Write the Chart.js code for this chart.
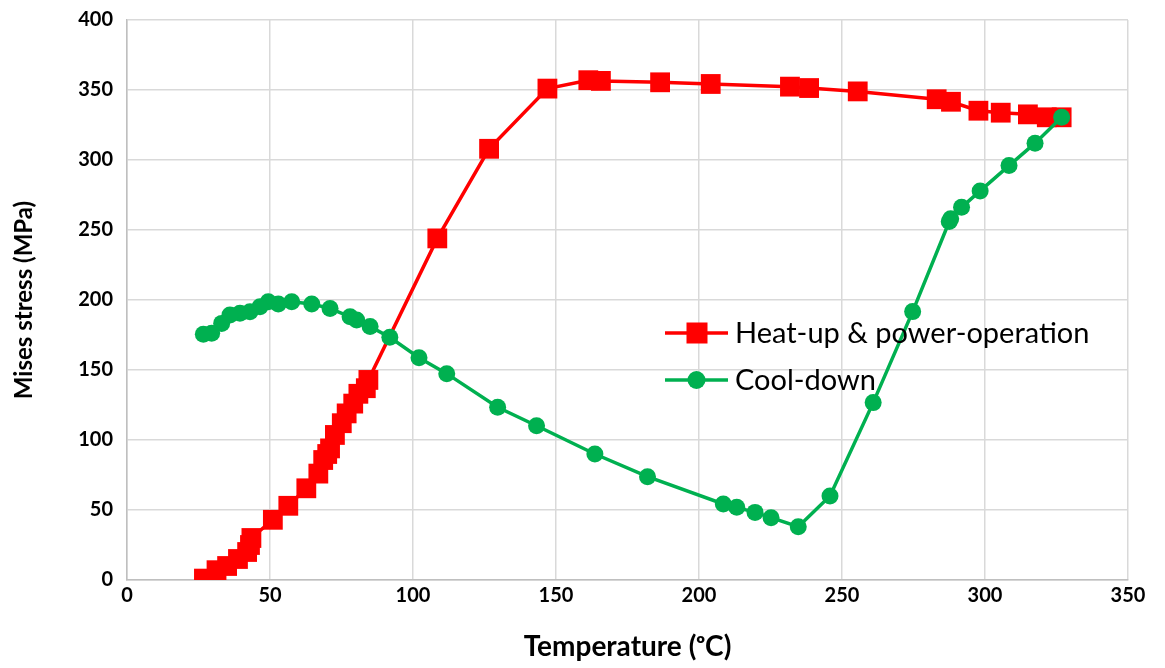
<!DOCTYPE html>
<html>
<head>
<meta charset="utf-8">
<script src="https://cdn.jsdelivr.net/npm/chart.js@4/dist/chart.umd.min.js"></script>
<style>
html,body{margin:0;padding:0;background:#fff;}
#wrap{width:1165px;height:668px;}
</style>
</head>
<body>
<div id="wrap"><canvas id="c" width="1165" height="668"></canvas></div>
<script>
// Heat-up & power-operation
const heatTemp = [26.9,31.3,35,38.8,42,43,43.5,51,56.4,62.7,66.9,68.6,70,71,72.7,75.1,76.8,79.1,80.9,83.5,84.4,108.5,126.6,147,161.3,165.7,186.4,204.1,231.8,238.5,255.5,283.1,288.1,297.7,305.5,315,321.6,326.8];
const heatStress = [1,7,10,15,20,25,30,43,53,65.5,76,85.7,90,94,103.6,112,119,126,133,137,142.9,244,308,351,357,356.5,355.5,354.3,352.4,351.4,349,343.4,341.6,335.2,333.8,332.6,330.5,330.5];
// Cool-down
const coolTemp = [326.8,317.5,308.4,298.3,291.8,288,287.5,274.7,260.9,245.8,234.7,225.2,219.6,213.2,208.5,182,163.6,143.2,129.6,111.8,102.1,91.9,85,80.3,78,71,64.6,57.6,52.9,49.4,46.5,43,39.5,36,33.1,29.6,26.7];
const coolStress = [330.5,312,296,277.9,266.2,258,256,191.7,126.7,60,38.1,44.5,48.3,51.9,54.3,73.8,90,110.2,123.4,147.4,158.8,173.4,181,185.7,188,194,197.1,198.8,197.1,198.8,195.2,191.6,190.5,189.3,183.3,176.2,175.5];

const seriesNames = ['Heat-up & power-operation','Cool-down'];
const xTitle = 'Temperature (\u1D52C)';
const yTitle = 'Mises stress (MPa)';

const RED = '#ff0000', GREEN = '#00b050';
const toXY = (xs, ys) => xs.map((x, i) => ({x: x, y: ys[i]}));

const legendPlugin = {
  id: 'insideLegend',
  afterDraw(chart) {
    const ctx = chart.ctx;
    const a = chart.chartArea;
    const x0 = a.left + 538, y0 = a.top + 313, gap = 47;
    const items = [
      {name: seriesNames[0], color: RED, shape: 'rect'},
      {name: seriesNames[1], color: GREEN, shape: 'circle'}
    ];
    ctx.save();
    items.forEach((it, i) => {
      const y = y0 + i * gap;
      ctx.strokeStyle = it.color; ctx.lineWidth = 3.5;
      ctx.beginPath(); ctx.moveTo(x0, y); ctx.lineTo(x0 + 63, y); ctx.stroke();
      ctx.fillStyle = it.color;
      if (it.shape === 'rect') { ctx.fillRect(x0 + 21.5, y - 10.5, 21, 21); }
      else { ctx.beginPath(); ctx.arc(x0 + 31.5, y, 9, 0, Math.PI * 2); ctx.fill(); }
      ctx.fillStyle = '#000';
      ctx.font = '29px Lato, "Liberation Sans", sans-serif';
      ctx.textBaseline = 'middle';
      ctx.textAlign = 'left';
      ctx.fillText(it.name, x0 + 70, y + 1);
    });
    ctx.restore();
  }
};

new Chart(document.getElementById('c'), {
  type: 'scatter',
  data: {
    datasets: [
      {
        label: seriesNames[0],
        data: toXY(heatTemp, heatStress),
        showLine: true,
        borderColor: RED, backgroundColor: RED,
        borderWidth: 3.5,
        pointStyle: 'rect', pointRadius: 14, pointHoverRadius: 14, pointBorderWidth: 0,
        order: 2
      },
      {
        label: seriesNames[1],
        data: toXY(coolTemp, coolStress),
        showLine: true,
        borderColor: GREEN, backgroundColor: GREEN,
        borderWidth: 3.5,
        pointStyle: 'circle', pointRadius: 8.5, pointHoverRadius: 8.5, pointBorderWidth: 0,
        order: 1
      }
    ]
  },
  options: {
    responsive: false,
    animation: false,
    layout: {padding: {top: 20, right: 37, left: 0, bottom: 0}},
    plugins: {legend: {display: false}, tooltip: {enabled: false}},
    scales: {
      x: {
        type: 'linear', min: 0, max: 350,
        ticks: {stepSize: 50, color: '#000', padding: 4, font: {family: 'Lato, "Liberation Sans", sans-serif', size: 20, weight: 'bold'}},
        grid: {color: '#d9d9d9', lineWidth: 1.5, drawTicks: false},
        border: {color: '#bfbfbf', width: 1.5},
        title: {display: true, text: xTitle, color: '#000', padding: {top: 0, bottom: 4}, font: {family: 'Lato, "DejaVu Sans", sans-serif', size: 28, weight: 'bold'}},
        afterFit(s) { s.height = 88; s.paddingLeft = 0; s.paddingRight = 0; }
      },
      y: {
        type: 'linear', min: 0, max: 400,
        ticks: {stepSize: 50, color: '#000', padding: 14, font: {family: 'Lato, "Liberation Sans", sans-serif', size: 20, weight: 'bold'}},
        grid: {color: '#d9d9d9', lineWidth: 1.5, drawTicks: false},
        border: {color: '#bfbfbf', width: 1.5},
        title: {display: true, text: yTitle, color: '#000', padding: {top: 10, bottom: 0}, font: {family: 'Lato, "Liberation Sans", sans-serif', size: 24, weight: 'bold'}},
        afterFit(s) { s.width = 127; s.paddingTop = 0; s.paddingBottom = 0; }
      }
    }
  },
  plugins: [legendPlugin]
});
</script>
</body>
</html>
